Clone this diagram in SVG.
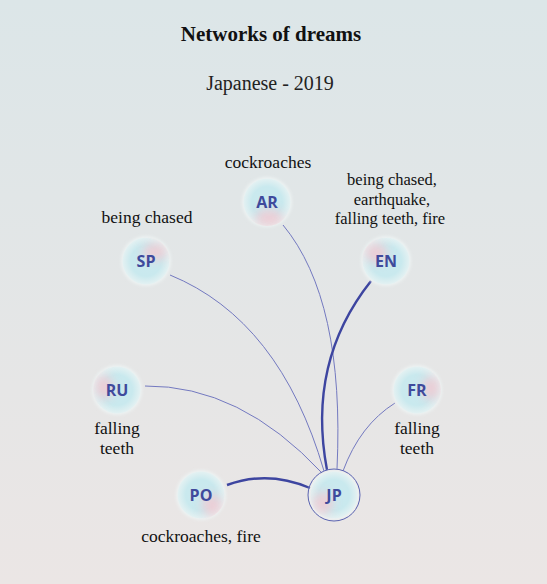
<svg xmlns="http://www.w3.org/2000/svg" width="547" height="584" viewBox="0 0 547 584">
<defs>
<linearGradient id="bg" x1="0" y1="0" x2="0" y2="1">
<stop offset="0" stop-color="#dce6e8"/>
<stop offset="1" stop-color="#ebe6e5"/>
</linearGradient>
<radialGradient id="blob" cx="0.5" cy="0.5" r="0.5">
<stop offset="0" stop-color="#cbe9ef"/>
<stop offset="0.65" stop-color="#c9e9ee"/>
<stop offset="1" stop-color="#e4f1f2"/>
</radialGradient>
<filter id="soft" x="-50%" y="-50%" width="200%" height="200%">
<feGaussianBlur stdDeviation="5"/>
</filter>
<filter id="edge" x="-30%" y="-30%" width="160%" height="160%">
<feGaussianBlur stdDeviation="1.5"/>
</filter>
<clipPath id="cc"><circle cx="0" cy="0" r="24"/></clipPath>
<g id="base">
<circle cx="0" cy="0" r="25" fill="#edf3f3" filter="url(#edge)"/>
<circle cx="0" cy="0" r="23.5" fill="url(#blob)"/>
</g>
</defs>
<style>
.ttl{font-family:"Liberation Serif",serif;font-weight:bold;font-size:21px;fill:#111;text-anchor:middle}
.sub{font-family:"Liberation Serif",serif;font-size:20px;fill:#222;text-anchor:middle}
.lbl{font-family:"Liberation Serif",serif;font-size:17.5px;fill:#111;text-anchor:middle}
.lbs{font-family:"Liberation Serif",serif;font-size:16.5px;fill:#111;text-anchor:middle}
.code{font-family:"Open Sans","DejaVu Sans",sans-serif;font-weight:bold;font-size:16px;fill:#3f4a9c;text-anchor:middle}
.pink{fill:#f4c8d0;opacity:0.8}
.e{fill:none;stroke:#7379c0;stroke-width:1}
.e2{fill:none;stroke:#3d45a0;stroke-width:2.4}
</style>
<rect x="0" y="0" width="547" height="584" fill="url(#bg)"/>
<text class="ttl" x="271" y="41">Networks of dreams</text>
<text class="sub" x="270" y="90">Japanese - 2019</text>

<g id="connectors">
<path class="e" d="M283,225 Q345,300 337,469"/>
<path class="e" d="M170,275 Q280,320 324,471"/>
<path class="e" d="M145,386 Q240,385 322,473"/>
<path class="e" d="M395,403 Q360,425 343,471"/>
<path class="e2" d="M371,281 C340,320 310,380 327,470"/>
<path class="e2" d="M227,485 Q268,470 310,488" stroke-width="1.8"/>
</g>

<g id="node-AR" transform="translate(267,202)">
<use href="#base"/>
<g clip-path="url(#cc)"><ellipse class="pink" cx="2" cy="16" rx="14" ry="9" filter="url(#soft)"/></g>
<text class="code" y="6">AR</text>
</g>
<text class="lbl" x="268" y="168">cockroaches</text>

<g id="node-SP" transform="translate(146,261)">
<use href="#base"/>
<g clip-path="url(#cc)"><ellipse class="pink" cx="9" cy="-9" rx="12" ry="9" filter="url(#soft)"/></g>
<text class="code" y="6">SP</text>
</g>
<text class="lbl" x="147" y="223">being chased</text>

<g id="node-EN" transform="translate(386,261)">
<use href="#base"/>
<g clip-path="url(#cc)"><ellipse class="pink" cx="-10" cy="-8" rx="11" ry="10" filter="url(#soft)"/></g>
<text class="code" y="6">EN</text>
</g>
<text class="lbs" x="392" y="185"><tspan x="392">being chased,</tspan><tspan x="392" dy="19.5">earthquake,</tspan><tspan x="390" dy="19.5">falling teeth, fire</tspan></text>

<g id="node-RU" transform="translate(117,390)">
<use href="#base"/>
<g clip-path="url(#cc)"><ellipse class="pink" cx="-13" cy="-3" rx="9" ry="12" filter="url(#soft)"/></g>
<text class="code" y="6">RU</text>
</g>
<text class="lbl" x="117" y="434"><tspan x="117">falling</tspan><tspan x="117" dy="20">teeth</tspan></text>

<g id="node-FR" transform="translate(417,390)">
<use href="#base"/>
<g clip-path="url(#cc)"><ellipse class="pink" cx="14" cy="-2" rx="9" ry="12" filter="url(#soft)"/></g>
<text class="code" y="6">FR</text>
</g>
<text class="lbl" x="417" y="434"><tspan x="417">falling</tspan><tspan x="417" dy="20">teeth</tspan></text>

<g id="node-PO" transform="translate(201,495)">
<use href="#base"/>
<g clip-path="url(#cc)"><ellipse class="pink" cx="11" cy="10" rx="10" ry="11" filter="url(#soft)"/></g>
<text class="code" y="6">PO</text>
</g>
<text class="lbl" x="201" y="542">cockroaches, fire</text>

<g id="node-JP" transform="translate(334,495)">
<use href="#base"/>
<g clip-path="url(#cc)"><ellipse class="pink" cx="-11" cy="8" rx="10" ry="11" filter="url(#soft)"/></g>
<circle cx="0" cy="0" r="26" fill="none" stroke="#5a62b0" stroke-width="1"/>
<text class="code" y="6">JP</text>
</g>
</svg>
